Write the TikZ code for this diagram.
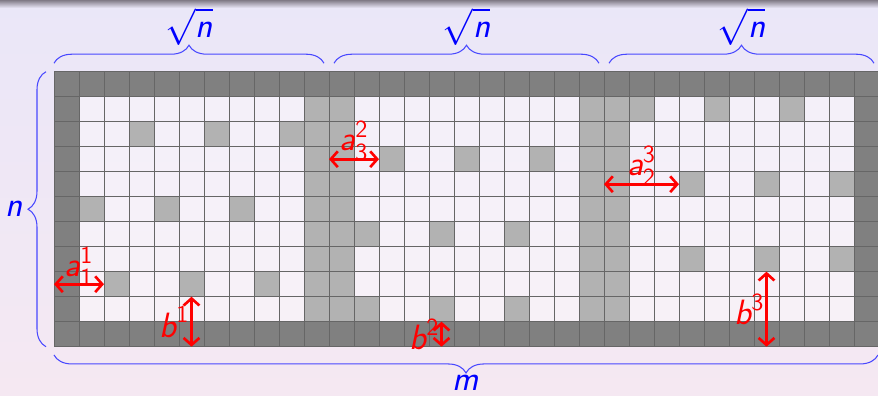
\documentclass[tikz,border=0pt]{standalone}
\usepackage{amsmath}
\usetikzlibrary{decorations.pathreplacing, arrows.meta}
\definecolor{bgtop}{RGB}{234,231,248}
\definecolor{bgbot}{RGB}{245,232,242}
\definecolor{slideshadow}{RGB}{128,122,134}
\definecolor{bracecol}{RGB}{72,72,255}
\newcommand{\sfvar}[1]{\text{\sffamily\itshape #1}}
\newcommand{\sfnum}[1]{\text{\sffamily #1}}
\tikzset{
  cellbg/.style={fill=white, fill opacity=0.4},
  wallout/.style={fill=black!50},
  wallin/.style={fill=black!30},
  blocked/.style={fill=black!30},
  cellline/.style={draw=black!60, line width=0.5pt, step=0.5cm},
  gap/.style={draw=red, line width=1.5pt, {Straight Barb[length=4pt, width=9pt]}-{Straight Barb[length=4pt, width=9pt]}},
  gaplabel/.style={text=red, font=\fontsize{20}{24}\selectfont, inner sep=0.5pt},
  sizebrace/.style={draw=bracecol, line width=0.6pt, decorate, decoration={brace, amplitude=0.36cm}},
  sizelabel/.style={text=blue, font=\fontsize{20}{24}\selectfont},
}

\begin{document}
\begin{tikzpicture}[x=0.5cm, y=0.5cm]
\useasboundingbox (-2.16,-1.932) rectangle (32.96,13.868);
\fill[top color=bgtop, bottom color=bgbot] (-2.16,-1.932) rectangle (32.96,13.868);
\fill[top color=slideshadow, bottom color=bgtop] (-2.16,13.548) rectangle (32.96,13.868);
\fill[cellbg] (0,0) rectangle (33,11);
\fill[wallout] (0,10) rectangle (33,11);
\fill[wallout] (0,0) rectangle (33,1);
\fill[wallout] (0,1) rectangle (1,10);
\fill[wallout] (32,1) rectangle (33,10);
\fill[wallin] (10,1) rectangle (12,10);
\fill[wallin] (21,1) rectangle (23,10);
\fill[blocked] (3,8) rectangle ++(1,1);
\fill[blocked] (6,8) rectangle ++(1,1);
\fill[blocked] (9,8) rectangle ++(1,1);
\fill[blocked] (1,5) rectangle ++(1,1);
\fill[blocked] (4,5) rectangle ++(1,1);
\fill[blocked] (7,5) rectangle ++(1,1);
\fill[blocked] (2,2) rectangle ++(1,1);
\fill[blocked] (5,2) rectangle ++(1,1);
\fill[blocked] (8,2) rectangle ++(1,1);
\fill[blocked] (13,7) rectangle ++(1,1);
\fill[blocked] (16,7) rectangle ++(1,1);
\fill[blocked] (19,7) rectangle ++(1,1);
\fill[blocked] (12,4) rectangle ++(1,1);
\fill[blocked] (15,4) rectangle ++(1,1);
\fill[blocked] (18,4) rectangle ++(1,1);
\fill[blocked] (12,1) rectangle ++(1,1);
\fill[blocked] (15,1) rectangle ++(1,1);
\fill[blocked] (18,1) rectangle ++(1,1);
\fill[blocked] (23,9) rectangle ++(1,1);
\fill[blocked] (26,9) rectangle ++(1,1);
\fill[blocked] (29,9) rectangle ++(1,1);
\fill[blocked] (25,6) rectangle ++(1,1);
\fill[blocked] (28,6) rectangle ++(1,1);
\fill[blocked] (31,6) rectangle ++(1,1);
\fill[blocked] (25,3) rectangle ++(1,1);
\fill[blocked] (28,3) rectangle ++(1,1);
\fill[blocked] (31,3) rectangle ++(1,1);
\draw[cellline] (0,0) grid (33,11);
\coordinate (a11s) at (0,2.5);
\coordinate (a11e) at (2,2.5);
\coordinate (a32s) at (11,7.5);
\coordinate (a32e) at (13,7.5);
\coordinate (a23s) at (22,6.5);
\coordinate (a23e) at (25,6.5);
\coordinate (b1s) at (5.5,0);
\coordinate (b1e) at (5.5,2);
\coordinate (b2s) at (15.5,0);
\coordinate (b2e) at (15.5,1);
\coordinate (b3s) at (28.5,0);
\coordinate (b3e) at (28.5,3);
\draw[gap] (a11s) -- (a11e) node[gaplabel, midway, above=-2pt] (a11) {$\sfvar{a}^{\sfnum{1}}_{\sfnum{1}}$};
\draw[gap] (a32s) -- (a32e) node[gaplabel, midway, above=-2pt] (a32) {$\sfvar{a}^{\sfnum{2}}_{\sfnum{3}}$};
\draw[gap] (a23s) -- (a23e) node[gaplabel, midway, above=-2pt] (a23) {$\sfvar{a}^{\sfnum{3}}_{\sfnum{2}}$};
\draw[gap] (b1s) -- (b1e) node[gaplabel, midway, left] (b1) {$\sfvar{b}^{\sfnum{1}}$};
\draw[gap] (b2s) -- (b2e) node[gaplabel, midway, left] (b2) {$\sfvar{b}^{\sfnum{2}}$};
\draw[gap] (b3s) -- (b3e) node[gaplabel, midway, left] (b3) {$\sfvar{b}^{\sfnum{3}}$};
\coordinate (top1s) at (0,11.34);
\coordinate (top1e) at (10.8,11.34);
\coordinate (top2s) at (11.2,11.34);
\coordinate (top2e) at (21.8,11.34);
\coordinate (top3s) at (22.2,11.34);
\coordinate (top3e) at (32.8,11.34);
\coordinate (lefts) at (-0.32,0);
\coordinate (lefte) at (-0.32,11);
\coordinate (bots) at (32.96,-0.33);
\coordinate (bote) at (0,-0.33);
\draw[sizebrace] (top1s) -- (top1e);
\draw[sizebrace] (top2s) -- (top2e);
\draw[sizebrace] (top3s) -- (top3e);
\draw[sizebrace] (lefts) -- (lefte);
\draw[sizebrace] (bots) -- (bote);
\node[sizelabel] (sq1) at (5.4,12.79) {$\sqrt{\sfvar{n}}$};
\node[sizelabel] (sq2) at (16.5,12.79) {$\sqrt{\sfvar{n}}$};
\node[sizelabel] (sq3) at (27.5,12.79) {$\sqrt{\sfvar{n}}$};
\node[sizelabel] (rows) at (-1.6,5.5) {$\sfvar{n}$};
\node[sizelabel] (cols) at (16.48,-1.45) {$\sfvar{m}$};
\end{tikzpicture}
\end{document}
